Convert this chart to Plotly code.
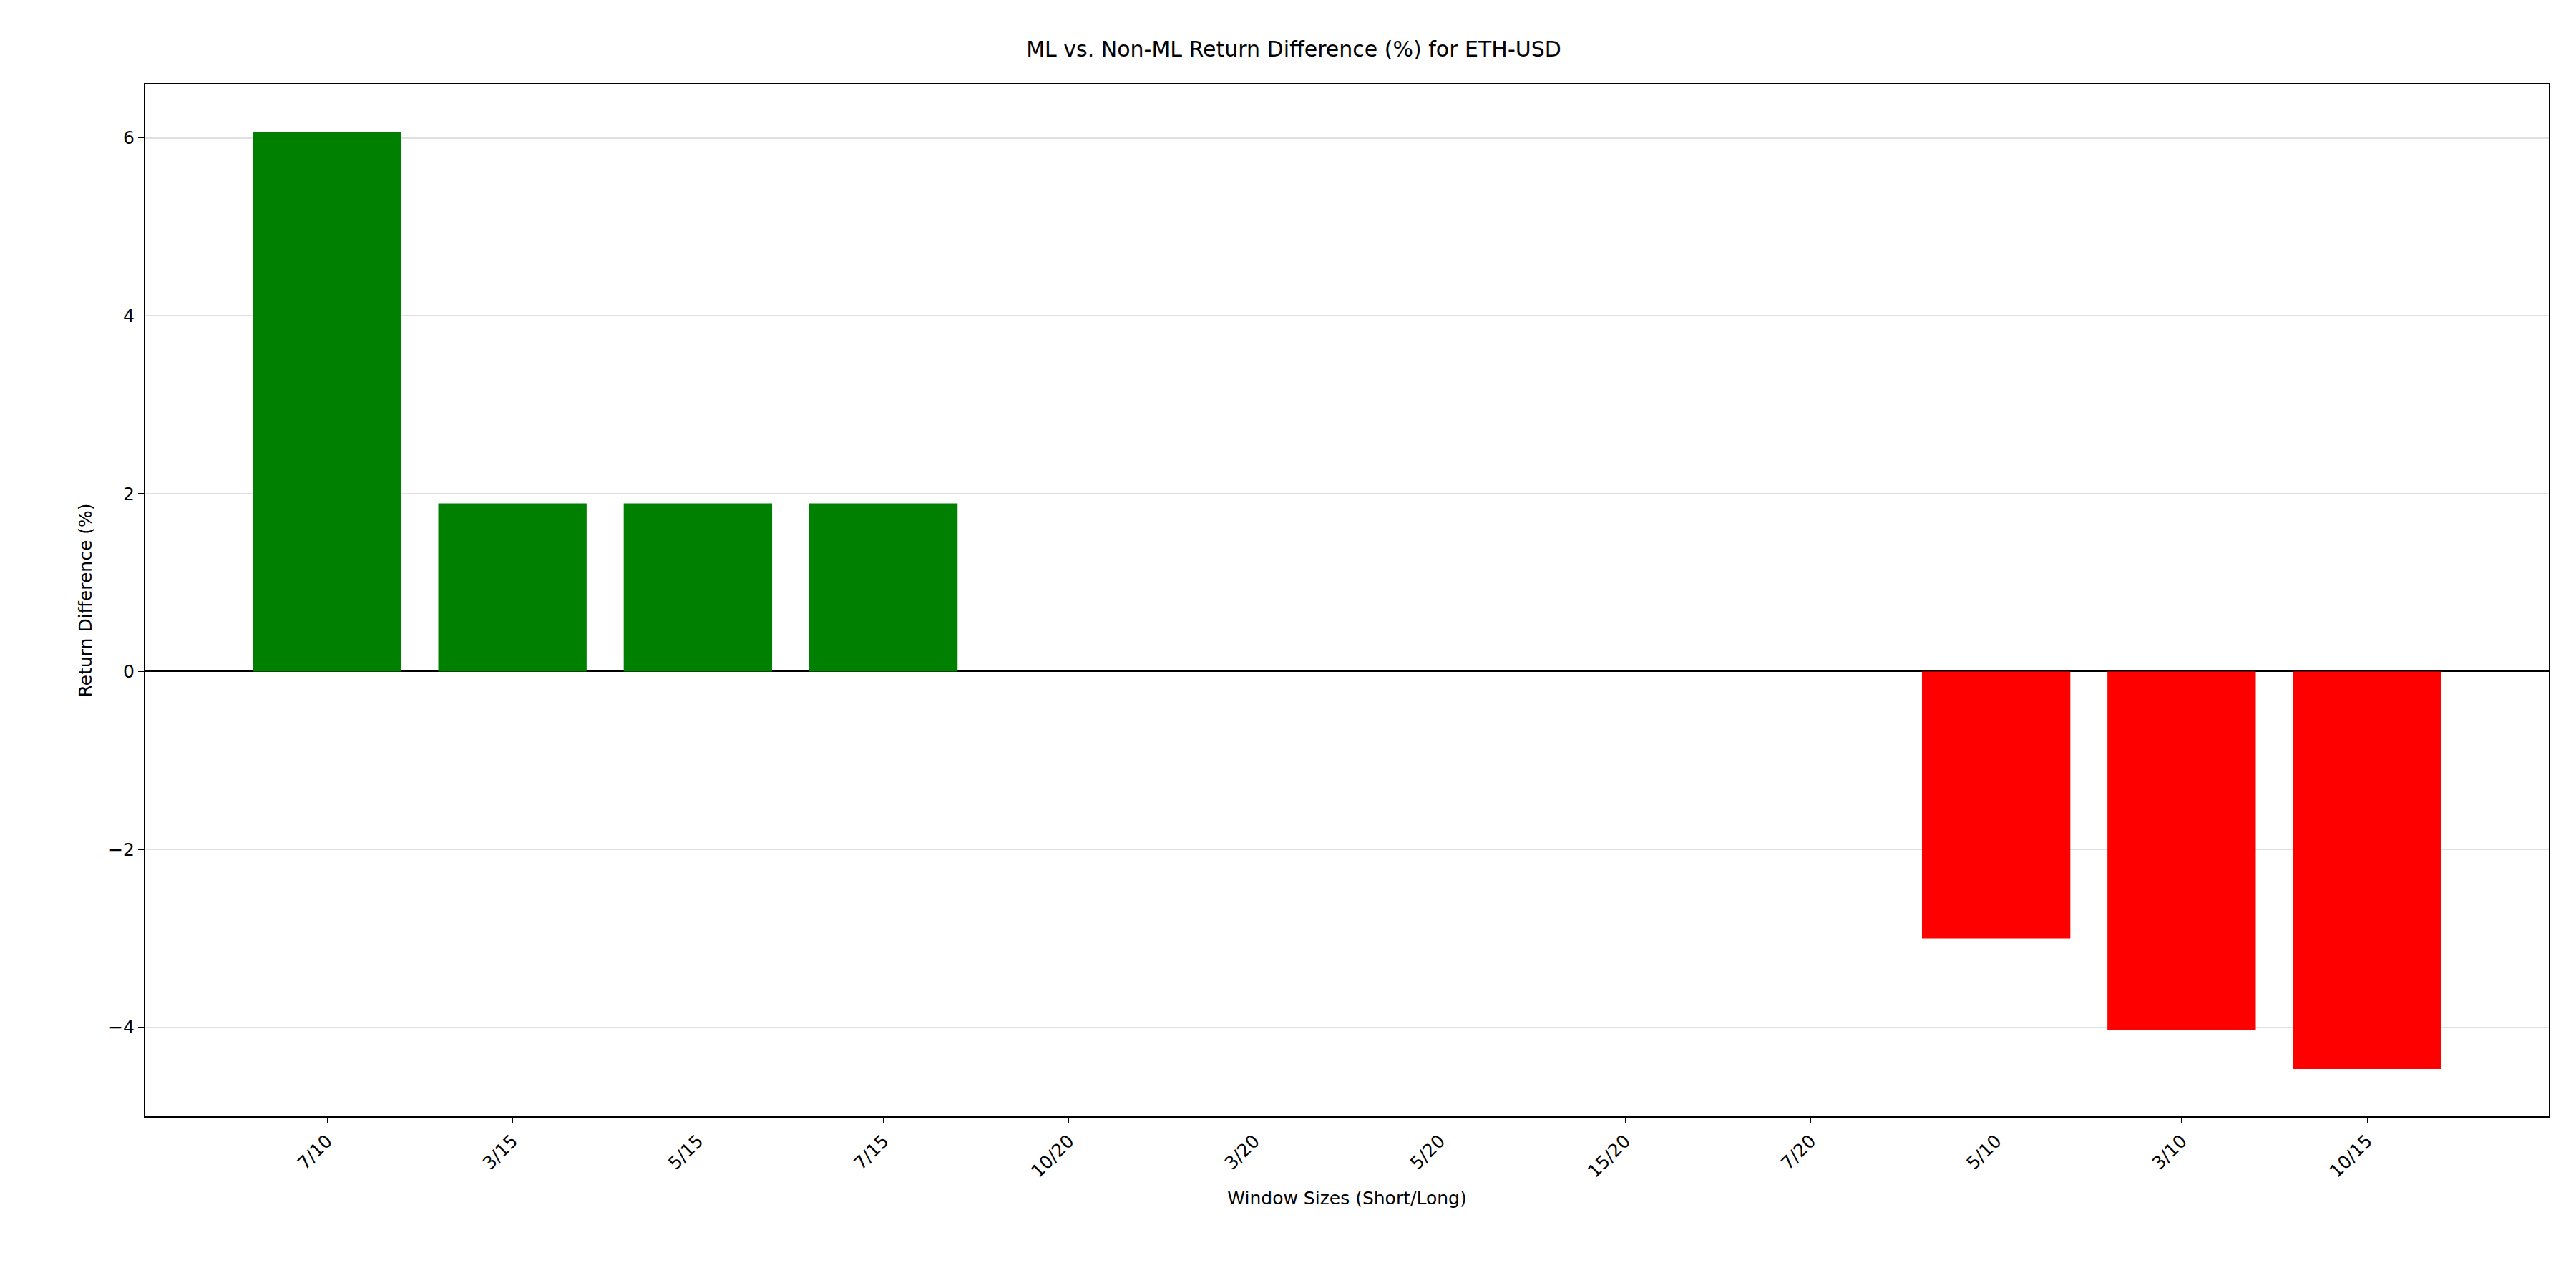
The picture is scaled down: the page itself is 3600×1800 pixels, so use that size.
import plotly.graph_objects as go

windows = ["7/10", "3/15", "5/15", "7/15", "10/20", "3/20", "5/20", "15/20", "7/20", "5/10", "3/10", "10/15"]
return_diff = [6.07, 1.89, 1.89, 1.89, 0, 0, 0, 0, 0, -3.0, -4.03, -4.47]
colors = ["green" if v > 0 else "red" for v in return_diff]

fig = go.Figure(go.Bar(x=list(range(len(windows))), y=return_diff, marker_color=colors,
                       marker_line_width=0, width=0.8))

font = "DejaVu Sans"
fig.update_layout(
    width=3600, height=1800,
    plot_bgcolor="white", paper_bgcolor="white",
    margin=dict(l=195, r=46, t=110, b=248),
    title=dict(text="ML vs. Non-ML Return Difference (%) for ETH-USD", x=0.5, xanchor="center",
               y=0.972, font=dict(family=font, size=30, color="black")),
    font=dict(family=font, size=25, color="black"),
    showlegend=False,
)
fig.update_xaxes(
    tickvals=list(range(len(windows))), ticktext=windows, tickangle=-45,
    range=[-0.98, 11.98], showgrid=False, zeroline=False,
    showline=True, linecolor="black", linewidth=2, mirror=True,
    ticks="outside", ticklen=8, tickcolor="black",
    title=dict(text="Window Sizes (Short/Long)", font=dict(size=25)),
)
fig.update_yaxes(
    range=[-5, 6.6], tickvals=[-4, -2, 0, 2, 4, 6], ticktext=["\u22124", "\u22122", "0", "2", "4", "6"],
    showgrid=True, gridcolor="rgba(0,0,0,0.12)", gridwidth=2,
    zeroline=True, zerolinecolor="black", zerolinewidth=2,
    showline=True, linecolor="black", linewidth=2, mirror=True,
    ticks="outside", ticklen=8, tickcolor="black",
    title=dict(text="Return Difference (%)", font=dict(size=25)),
)
fig.write_html("out.html")
